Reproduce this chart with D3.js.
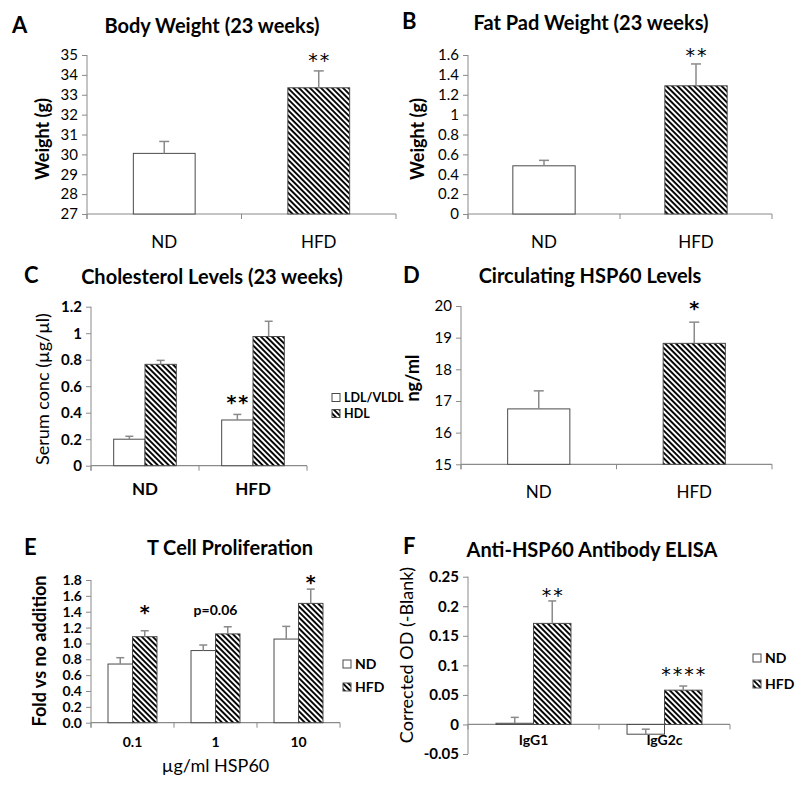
<!DOCTYPE html>
<html><head><meta charset="utf-8">
<script src="https://cdn.jsdelivr.net/npm/d3@7"></script>
<style>
body{margin:0;background:#fff;}
svg text{font-family:Lato,"Open Sans",sans-serif;fill:#000;}
</style></head>
<body><svg id="c" width="800" height="787"></svg>
<script>
// ---------- DATA ----------
const groupsAB = ["ND","HFD"];
const bodyWeight = [30.05, 33.35];
const bodyWeightErr = [0.6, 0.85];
const bodyWeightTicks = [27,28,29,30,31,32,33,34,35];
const fatPad = [0.485, 1.29];
const fatPadErr = [0.055, 0.22];
const fatPadTicks = [0,0.2,0.4,0.6,0.8,1,1.2,1.4,1.6];
const cholGroups = ["ND","HFD"];
const cholSeries = ["LDL/VLDL","HDL"];
const ldl = [0.20, 0.345];
const ldlErr = [0.022, 0.042];
const hdl = [0.765, 0.975];
const hdlErr = [0.03, 0.115];
const cholTicks = [0,0.2,0.4,0.6,0.8,1,1.2];
const hspLevels = [16.75, 18.82];
const hspLevelsErr = [0.57, 0.67];
const hspTicks = [15,16,17,18,19,20];
const doses = ["0.1","1","10"];
const dietSeries = ["ND","HFD"];
const tcellND = [0.74, 0.91, 1.055];
const tcellNDErr = [0.08, 0.07, 0.16];
const tcellHFD = [1.085, 1.12, 1.505];
const tcellHFDErr = [0.075, 0.09, 0.18];
const tcellTicks = [0,0.2,0.4,0.6,0.8,1.0,1.2,1.4,1.6,1.8];
const tcellNotes = ["*","p=0.06","*"];
const isotypes = ["IgG1","IgG2c"];
const elisaND = [0.002, -0.0165];
const elisaNDErr = [0.01, 0.0085];
const elisaHFD = [0.171, 0.058];
const elisaHFDErr = [0.038, 0.007];
const elisaTicks = [-0.05,0,0.05,0.1,0.15,0.2,0.25];
const elisaNotes = ["**","****"];

// ---------- DRAW ----------
const svg = d3.select("#c");
const defs = svg.append("defs");
const pat = defs.append("pattern").attr("id","hatch").attr("patternUnits","userSpaceOnUse")
  .attr("width",3.9).attr("height",10).attr("patternTransform","rotate(-45)");
pat.append("rect").attr("width",3.9).attr("height",10).attr("fill","#fff");
pat.append("line").attr("x1",1).attr("x2",1).attr("y1",0).attr("y2",10).attr("stroke","#000").attr("stroke-width",1.9);

const AX = "#8a8a8a";

function panel(o){
  const g = svg.append("g");
  const y = d3.scaleLinear().domain(o.domain).range([o.bottom, o.top]);
  const x = d3.scaleBand().domain(o.cats).range([o.left, o.right]);
  const ya = g.append("g").attr("transform",`translate(${o.left},0)`)
    .call(d3.axisLeft(y).tickValues(o.ticks).tickFormat(o.fmt).tickSize(5).tickPadding(4));
  ya.select(".domain").attr("stroke",AX).attr("d",`M0,${y(o.domain[0])+(o.base===o.domain[0]?5:0)}V${y(o.domain[1])}`);
  ya.selectAll(".tick line").attr("stroke",AX);
  ya.selectAll(".tick text").style("font-family","Lato").style("font-size",o.tickSize+"px")
    .style("font-weight",o.tickBold?"bold":"normal").attr("fill","#000");
  const yb = y(o.base);
  g.append("line").attr("x1",o.left).attr("x2",o.right).attr("y1",yb).attr("y2",yb).attr("stroke",AX).attr("stroke-width",1.2);
  const bounds = o.cats.map(c=>x(c)).concat([o.right]);
  g.selectAll(".xt").data(bounds).join("line").attr("x1",d=>d).attr("x2",d=>d)
    .attr("y1",yb).attr("y2",yb+5).attr("stroke",AX);
  const nS = o.series.length;
  const bw = x.bandwidth()*o.barFrac;
  o.series.forEach((s,si)=>{
    o.cats.forEach((c,ci)=>{
      const v = s.values[ci], e = s.err[ci];
      const cx = x(c)+x.bandwidth()/2;
      const bx = cx - bw*nS/2 + si*bw;
      const h = Array.isArray(s.hatch) ? s.hatch[ci] : s.hatch;
      g.append("rect").attr("x",bx).attr("width",bw)
        .attr("y",Math.min(y(v),yb)).attr("height",Math.abs(y(v)-yb))
        .attr("fill",h?"url(#hatch)":"#fff").attr("stroke","#4a4a4a").attr("stroke-width",1);
      const ex = bx+bw/2;
      g.append("line").attr("x1",ex).attr("x2",ex).attr("y1",y(v)).attr("y2",y(v+e)).attr("stroke",AX).attr("stroke-width",1.5);
      g.append("line").attr("x1",ex-o.cap).attr("x2",ex+o.cap).attr("y1",y(v+e)).attr("y2",y(v+e)).attr("stroke",AX).attr("stroke-width",1.5);
    });
  });
  (o.notes||[]).forEach(n=>{
    const cx = x(o.cats[n.ci])+x.bandwidth()/2 + (n.si - (nS-1)/2)*bw;
    const star = /^\*+$/.test(n.text);
    const fs = star ? 19 : 14;
    g.append("text").attr("x",cx + (star?1:0)).attr("y",y(n.at) + (star? fs*0.45 : fs*0.35)).attr("text-anchor","middle")
      .style("font-family", star ? "'DejaVu Sans'" : "Lato")
      .style("font-size",fs+"px").style("font-weight",n.bold?"bold":"normal")
      .style("letter-spacing", star? "2px":"0px").text(n.text);
  });
  o.cats.forEach(c=>{
    g.append("text").attr("x",x(c)+x.bandwidth()/2).attr("y",o.xLabY).attr("text-anchor","middle")
      .style("font-size",o.xLabSize+"px").style("font-weight",o.xLabBold?"bold":"normal").text(c);
  });
  g.append("text").attr("x",o.titleX).attr("y",o.titleY).attr("text-anchor","middle")
    .style("font-size","20px").style("font-weight","bold").text(o.title);
  g.append("text").attr("x",o.letterX).attr("y",o.letterY)
    .style("font-size","22px").style("font-weight","bold").text(o.letter);
  g.append("text").attr("transform",`translate(${o.yLabX},${o.yLabY}) rotate(-90)`).attr("text-anchor","middle")
    .style("font-size",o.yLabSize+"px").style("font-weight",o.yLabBold?"bold":"normal").text(o.yLabel);
  if(o.legend){
    o.series.forEach((s,i)=>{
      const ly = o.legend.y + i*o.legend.step;
      g.append("rect").attr("x",o.legend.x).attr("y",ly-4).attr("width",8).attr("height",8)
        .attr("fill",s.hatch?"url(#hatch)":"#fff").attr("stroke","#4a4a4a");
      g.append("text").attr("x",o.legend.x+12).attr("y",ly+4.5).style("font-size",o.legend.size+"px").style("font-weight","bold").text(s.name);
    });
  }
  if(o.xTitle){
    g.append("text").attr("x",(o.left+o.right)/2).attr("y",o.xTitleY).attr("text-anchor","middle")
      .style("font-size","18px").text(o.xTitle);
  }
}

const fPlain = d=>String(d);
const f1 = d3.format(".1f");

// A
panel({cats:groupsAB, series:[{name:"",values:bodyWeight,err:bodyWeightErr,hatch:[false,true]}],
  domain:[27,35], base:27, ticks:bodyWeightTicks, fmt:fPlain, left:87, right:396, top:55, bottom:214,
  barFrac:0.4, cap:5, tickSize:15, xLabY:248, xLabSize:17, title:"Body Weight (23 weeks)", titleX:212, titleY:33,
  letter:"A", letterX:12, letterY:33, yLabel:"Weight (g)", yLabX:49, yLabY:139, yLabSize:18, yLabBold:true,
  notes:[{ci:1,si:0,at:34.85,text:"**"}]});
// B
panel({cats:groupsAB, series:[{name:"",values:fatPad,err:fatPadErr,hatch:[false,true]}],
  domain:[0,1.6], base:0, ticks:fatPadTicks, fmt:fPlain, left:468, right:772, top:55, bottom:214,
  barFrac:0.41, cap:5, tickSize:15, xLabY:248, xLabSize:17, title:"Fat Pad Weight (23 weeks)", titleX:591, titleY:30,
  letter:"B", letterX:402, letterY:29, yLabel:"Weight (g)", yLabX:424, yLabY:139, yLabSize:18, yLabBold:true,
  notes:[{ci:1,si:0,at:1.62,text:"**"}]});
// C
panel({cats:cholGroups, series:[{name:cholSeries[0],values:ldl,err:ldlErr,hatch:false},{name:cholSeries[1],values:hdl,err:hdlErr,hatch:true}],
  domain:[0,1.2], base:0, ticks:cholTicks, fmt:fPlain, left:91, right:307, top:306.7, bottom:465.7,
  barFrac:0.29, cap:4, tickSize:15, tickBold:true, xLabY:495, xLabSize:17, xLabBold:true,
  title:"Cholesterol Levels (23 weeks)", titleX:212, titleY:284,
  letter:"C", letterX:24, letterY:283, yLabel:"Serum conc (µg/µl)", yLabX:49, yLabY:389, yLabSize:18,
  legend:{x:332, y:397.5, step:16, size:12.5},
  notes:[{ci:1,si:0,at:0.496,text:"**",bold:true}]});
// D
panel({cats:groupsAB, series:[{name:"",values:hspLevels,err:hspLevelsErr,hatch:[false,true]}],
  domain:[15,20], base:15, ticks:hspTicks, fmt:fPlain, left:461, right:772, top:306, bottom:464.3,
  barFrac:0.4, cap:5, tickSize:15, xLabY:498, xLabSize:17, title:"Circulating HSP60 Levels", titleX:590, titleY:283,
  letter:"D", letterX:403, letterY:283, yLabel:"ng/ml", yLabX:419, yLabY:378, yLabSize:18, yLabBold:true,
  notes:[{ci:1,si:0,at:19.97,text:"*",bold:true}]});
// E
panel({cats:doses, series:[{name:dietSeries[0],values:tcellND,err:tcellNDErr,hatch:false},{name:dietSeries[1],values:tcellHFD,err:tcellHFDErr,hatch:true}],
  domain:[0,1.8], base:0, ticks:tcellTicks, fmt:f1, left:91, right:340, top:580, bottom:722.7,
  barFrac:0.295, cap:4, tickSize:14, tickBold:true, xLabY:747, xLabSize:14, xLabBold:true,
  title:"T Cell Proliferation", titleX:230, titleY:555,
  letter:"E", letterX:24, letterY:555, yLabel:"Fold vs no addition", yLabX:46, yLabY:651, yLabSize:18, yLabBold:true,
  legend:{x:343, y:664, step:23, size:14},
  xTitle:"µg/ml HSP60", xTitleY:772,
  notes:[{ci:0,si:1,at:1.42,text:tcellNotes[0],bold:true},
         {ci:1,si:0.5,at:1.42,text:tcellNotes[1],bold:true},
         {ci:2,si:1,at:1.80,text:tcellNotes[2],bold:true}]});
// F
panel({cats:isotypes, series:[{name:dietSeries[0],values:elisaND,err:elisaNDErr,hatch:false},{name:dietSeries[1],values:elisaHFD,err:elisaHFDErr,hatch:true}],
  domain:[-0.05,0.25], base:0, ticks:elisaTicks, fmt:fPlain, left:468, right:730, top:576.7, bottom:754,
  barFrac:0.286, cap:4, tickSize:15, tickBold:true, xLabY:745, xLabSize:14, xLabBold:true,
  title:"Anti-HSP60 Antibody ELISA", titleX:592, titleY:557,
  letter:"F", letterX:403, letterY:554, yLabel:"Corrected OD (-Blank)", yLabX:413, yLabY:655, yLabSize:18,
  legend:{x:753, y:658, step:26, size:14},
  notes:[{ci:0,si:1,at:0.222,text:elisaNotes[0]},
         {ci:1,si:1,at:0.088,text:elisaNotes[1]}]});
</script>
</body></html>
